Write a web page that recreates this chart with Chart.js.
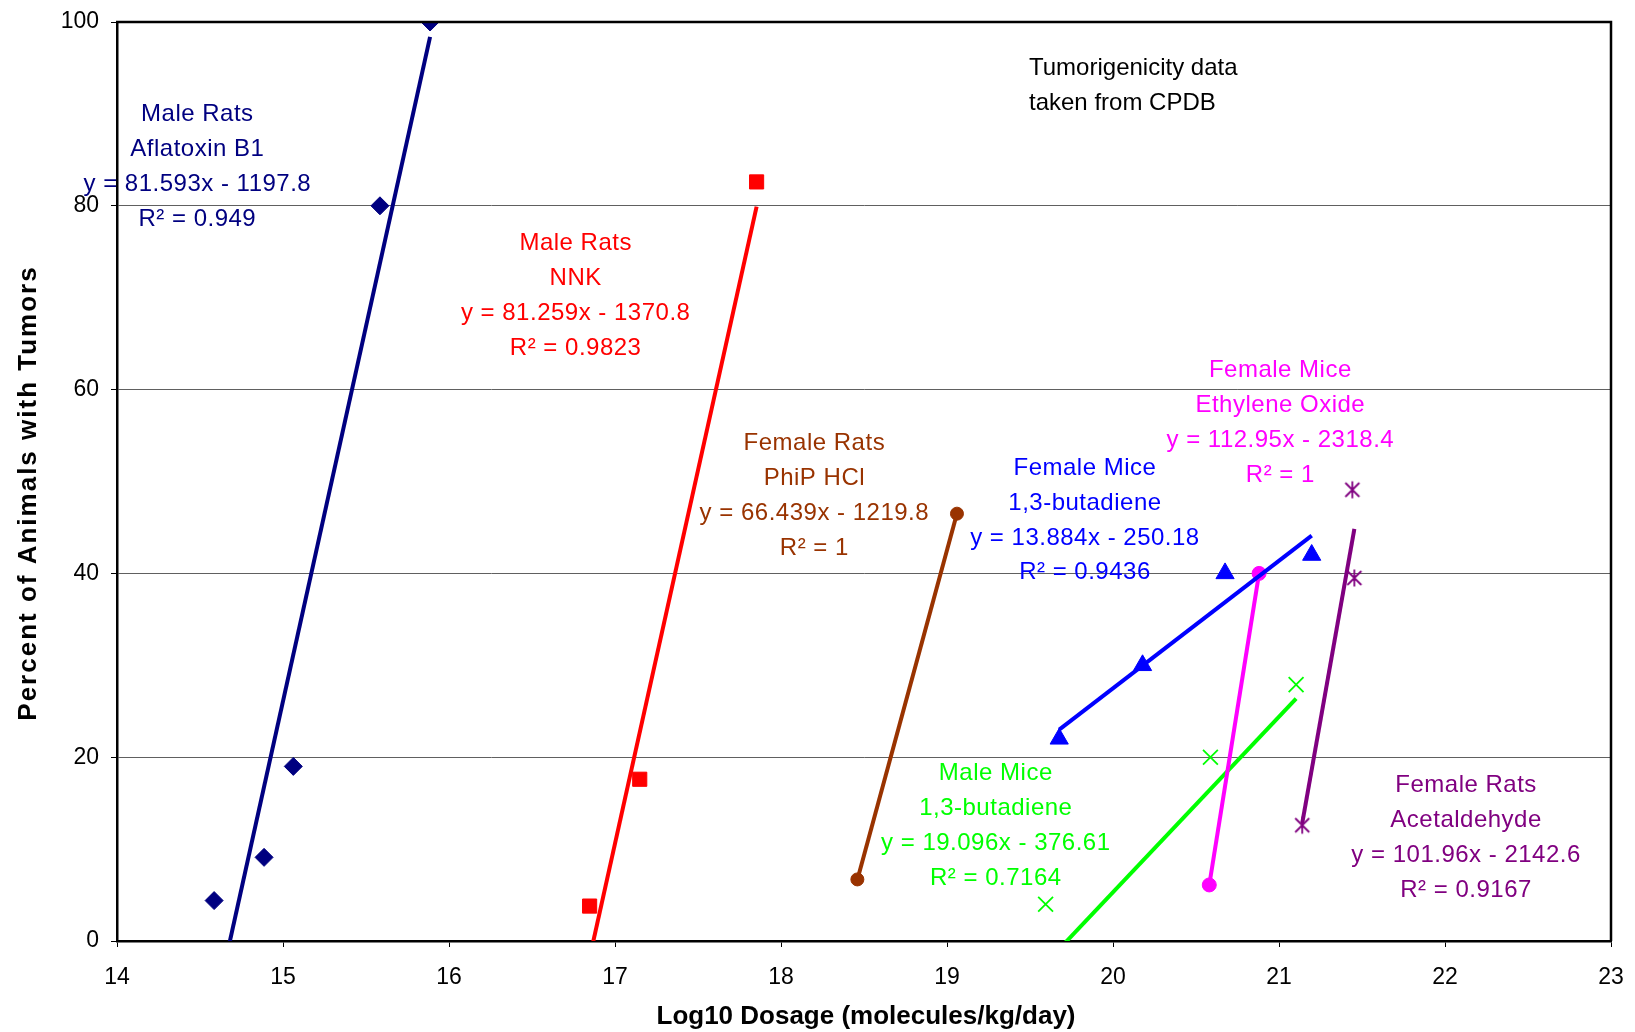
<!DOCTYPE html>
<html><head><meta charset="utf-8">
<script src="https://cdn.jsdelivr.net/npm/chart.js@4.4.1/dist/chart.umd.min.js"></script>
<style>html,body{margin:0;padding:0;background:#fff;}canvas{display:block;}</style>
</head><body>
<canvas id="c" width="1635" height="1032"></canvas>
<script>
// ---- Data ----
const seriesSubject = ['Male Rats', 'Male Rats', 'Female Rats', 'Female Mice', 'Female Mice', 'Male Mice', 'Female Rats'];
const seriesChemical = ['Aflatoxin B1', 'NNK', 'PhiP HCl', '1,3-butadiene', 'Ethylene Oxide', '1,3-butadiene', 'Acetaldehyde'];
const equationText = ['y = 81.593x - 1197.8', 'y = 81.259x - 1370.8', 'y = 66.439x - 1219.8', 'y = 13.884x - 250.18', 'y = 112.95x - 2318.4', 'y = 19.096x - 376.61', 'y = 101.96x - 2142.6'];
const r2Text = ['R\u00B2 = 0.949', 'R\u00B2 = 0.9823', 'R\u00B2 = 1', 'R\u00B2 = 0.9436', 'R\u00B2 = 1', 'R\u00B2 = 0.7164', 'R\u00B2 = 0.9167'];
const trendSlope = [81.593, 81.259, 66.439, 13.884, 112.95, 19.096, 101.96];
const trendIntercept = [-1197.8, -1370.8, -1219.8, -250.18, -2318.4, -376.61, -2142.6];

const aflatoxinX = [14.585, 14.886, 15.062, 15.584, 15.886];
const aflatoxinY = [4.4, 9.1, 19.0, 80.0, 100.0];
const nnkX = [16.847, 17.149, 17.853];
const nnkY = [3.8, 17.6, 82.6];
const phipX = [18.46, 19.06];
const phipY = [6.7, 46.5];
const femaleMiceButX = [19.676, 20.178, 20.675, 21.197];
const femaleMiceButY = [22.0, 30.0, 40.0, 42.0];
const ethyleneX = [20.58, 20.88];
const ethyleneY = [6.1, 40.0];
const maleMiceButX = [19.594, 20.587, 21.103];
const maleMiceButY = [4.0, 20.0, 27.9];
const acetX = [21.14, 21.442, 21.454];
const acetY = [12.6, 49.1, 39.5];

const xTicks = [14, 15, 16, 17, 18, 19, 20, 21, 22, 23];
const yTicks = [0, 20, 40, 60, 80, 100];
const xTitle = 'Log10 Dosage (molecules/kg/day)';
const yTitle = 'Percent of Animals with Tumors';
const noteLines = ['Tumorigenicity data', 'taken from CPDB'];

// ---- Styles ----
const colors = ['#000080', '#FF0000', '#993300', '#0000FF', '#FF00FF', '#00FF00', '#800080'];
const FONT = '"Liberation Sans", Arial, sans-serif';

// asterisk marker (x with vertical bar)
function makeAsterisk(color) {
  const c = document.createElement('canvas');
  c.width = 20; c.height = 20;
  const g = c.getContext('2d');
  g.strokeStyle = color; g.lineWidth = 1.8;
  g.beginPath();
  g.moveTo(3, 3); g.lineTo(17, 17);
  g.moveTo(17, 3); g.lineTo(3, 17);
  g.moveTo(10, 1.5); g.lineTo(10, 18.5);
  g.stroke();
  return c;
}

const seriesX = [aflatoxinX, nnkX, phipX, femaleMiceButX, ethyleneX, maleMiceButX, acetX];
const seriesY = [aflatoxinY, nnkY, phipY, femaleMiceButY, ethyleneY, maleMiceButY, acetY];
const markerStyle = ['rectRot', 'rect', 'circle', 'triangle', 'circle', 'crossRot', makeAsterisk('#800080')];
const markerRadius = [9, 10, 6.5, 10.5, 7, 10.5, 10];

const trendSets = seriesX.map((xs, i) => {
  const x0 = Math.min(...xs), x1 = Math.max(...xs);
  return {
    data: [x0, x1].map(x => ({x, y: trendSlope[i] * x + trendIntercept[i]})),
    showLine: true, pointRadius: 0, borderColor: colors[i], borderWidth: 4,
    backgroundColor: colors[i], fill: false
  };
});
const pointSets = seriesX.map((xs, i) => ({
  data: xs.map((x, k) => ({x, y: seriesY[i][k]})),
  showLine: false,
  pointStyle: markerStyle[i],
  pointRadius: markerRadius[i],
  pointBackgroundColor: colors[i],
  pointBorderColor: colors[i],
  pointBorderWidth: markerStyle[i] === 'crossRot' ? 1.8 : 1,
  borderColor: colors[i], backgroundColor: colors[i]
}));

// annotation anchors (data coordinates of the first text line centre)
const annotAnchors = [
  [14.484, 89.9], [16.763, 75.9], [18.201, 54.15], [19.831, 51.45],
  [21.008, 62.1], [19.294, 18.2], [22.127, 16.95]
];
const noteAnchor = [19.494, 95.0];

const annotPlugin = {
  id: 'annot',
  afterDatasetsDraw(chart) {
    const {ctx, chartArea: a, scales: {x, y}} = chart;
    ctx.save();
    // top and right frame
    ctx.strokeStyle = '#000'; ctx.lineWidth = 2.5;
    ctx.beginPath();
    ctx.moveTo(a.left - 1, a.top); ctx.lineTo(a.right, a.top); ctx.lineTo(a.right, a.bottom);
    ctx.stroke();
    // equation labels
    ctx.font = '24px ' + FONT;
    try { ctx.letterSpacing = '0.5px'; } catch (e) {}
    ctx.textAlign = 'center'; ctx.textBaseline = 'middle';
    const lh = 34.9;
    annotAnchors.forEach((p, i) => {
      const px = x.getPixelForValue(p[0]), py = y.getPixelForValue(p[1]);
      ctx.fillStyle = colors[i];
      [seriesSubject[i], seriesChemical[i], equationText[i], r2Text[i]].forEach((t, k) => {
        ctx.fillText(t, px, py + k * lh);
      });
    });
    // note
    try { ctx.letterSpacing = '0px'; } catch (e) {}
    ctx.fillStyle = '#000'; ctx.textAlign = 'left';
    const nx = x.getPixelForValue(noteAnchor[0]), ny = y.getPixelForValue(noteAnchor[1]);
    noteLines.forEach((t, k) => ctx.fillText(t, nx, ny + k * 35.5));
    // axis titles
    ctx.font = 'bold 26px ' + FONT;
    ctx.textAlign = 'center'; ctx.textBaseline = 'alphabetic';
    ctx.fillText(xTitle, (a.left + a.right) / 2 + 2, 1024);
    ctx.save();
    ctx.translate(36, 493);
    ctx.rotate(-Math.PI / 2);
    try { ctx.letterSpacing = '2px'; } catch (e) {}
    ctx.fillText(yTitle, 0, 0);
    ctx.restore();
    try { ctx.letterSpacing = '0px'; } catch (e) {}
    ctx.restore();
  }
};

new Chart(document.getElementById('c'), {
  type: 'scatter',
  data: {datasets: [...trendSets, ...pointSets]},
  options: {
    responsive: false,
    animation: false,
    layout: {padding: {top: 22, right: 24, left: 0, bottom: 0}},
    plugins: {legend: {display: false}, tooltip: {enabled: false}},
    scales: {
      x: {
        type: 'linear', min: xTicks[0], max: xTicks[xTicks.length - 1],
        afterBuildTicks: s => { s.ticks = xTicks.map(v => ({value: v})); },
        afterFit: s => { s.height = 91; s.paddingLeft = 0; s.paddingRight = 0; },
        ticks: {color: '#000', font: {size: 23, family: FONT}, padding: 17, maxRotation: 0},
        grid: {drawOnChartArea: false, drawTicks: true, tickLength: 6, tickColor: '#000', tickWidth: 1},
        border: {display: true, color: '#000', width: 2.5}
      },
      y: {
        type: 'linear', min: yTicks[0], max: yTicks[yTicks.length - 1],
        afterBuildTicks: s => { s.ticks = yTicks.map(v => ({value: v})); },
        afterFit: s => { s.width = 117; s.paddingTop = 0; s.paddingBottom = 0; },
        ticks: {color: '#000', font: {size: 23, family: FONT}, padding: 12},
        grid: {color: '#606060', lineWidth: 1, drawTicks: true, tickLength: 6, tickColor: '#000', tickWidth: 1},
        border: {display: true, color: '#000', width: 2.5}
      }
    }
  },
  plugins: [annotPlugin]
});
</script></body></html>
